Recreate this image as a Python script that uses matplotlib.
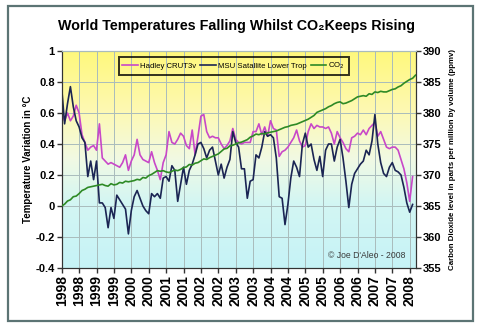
"""
World temperatures vs CO2, Jan 1998 - early 2008 (monthly).
Hadley CRUT3v and MSU lower troposphere on the left axis, CO2 ppmv on the right.
"""

import numpy as np
import matplotlib
matplotlib.use('Agg')
import matplotlib.pyplot as plt
from matplotlib.colors import LinearSegmentedColormap
from matplotlib.patches import Rectangle

# monthly anomalies (deg C), Jan 1998 onwards
HADLEY = [0.60, 0.55, 0.60, 0.55, 0.58, 0.65, 0.60, 0.46, 0.41, 0.36, 0.38, 0.39,
          0.36, 0.53, 0.31, 0.29, 0.27, 0.28, 0.27, 0.26, 0.25, 0.28, 0.33, 0.23,
          0.29, 0.33, 0.43, 0.33, 0.30, 0.29, 0.28, 0.35, 0.28, 0.23, 0.17, 0.28,
          0.33, 0.48, 0.41, 0.40, 0.43, 0.47, 0.45, 0.39, 0.37, 0.49, 0.33, 0.45,
          0.58, 0.59, 0.48, 0.44, 0.45, 0.44, 0.44, 0.40, 0.37, 0.39, 0.42, 0.50,
          0.43, 0.41, 0.40, 0.41, 0.41, 0.41, 0.48, 0.48, 0.53, 0.46, 0.51, 0.45,
          0.55, 0.50, 0.49, 0.32, 0.35, 0.36, 0.38, 0.41, 0.44, 0.49, 0.42, 0.38,
          0.39, 0.48, 0.53, 0.50, 0.52, 0.51, 0.51, 0.50, 0.51, 0.47, 0.40, 0.48,
          0.44, 0.41, 0.37, 0.35, 0.44, 0.45, 0.47, 0.46, 0.49, 0.46, 0.50, 0.52,
          0.54, 0.45, 0.48, 0.43, 0.38, 0.37, 0.38, 0.38, 0.36, 0.30, 0.24, 0.15,
          0.03, 0.19]

MSU = [0.76, 0.53, 0.66, 0.77, 0.64, 0.55, 0.51, 0.44, 0.41, 0.19, 0.29, 0.17,
       0.29, 0.02, 0.02, -0.01, -0.14, -0.01, -0.08, 0.07, 0.04, 0.01, -0.02, -0.18,
       -0.03, 0.06, 0.10, 0.05, 0.00, -0.03, -0.05, 0.08, 0.06, 0.08, 0.05, 0.18,
       0.19, 0.16, 0.26, 0.23, 0.03, 0.14, 0.25, 0.14, 0.23, 0.27, 0.33, 0.40,
       0.41, 0.37, 0.31, 0.36, 0.38, 0.29, 0.20, 0.27, 0.18, 0.25, 0.30, 0.48,
       0.41, 0.38, 0.24, 0.24, 0.05, 0.16, 0.17, 0.33, 0.31, 0.38, 0.48, 0.45,
       0.46, 0.44, 0.31, 0.06, 0.05, -0.12, 0.01, 0.18, 0.29, 0.25, 0.19, 0.40,
       0.47, 0.38, 0.40, 0.30, 0.23, 0.32, 0.19, 0.36, 0.40, 0.40, 0.29, 0.38,
       0.43, 0.31, 0.16, -0.01, 0.14, 0.21, 0.24, 0.27, 0.29, 0.36, 0.33, 0.42,
       0.59, 0.40, 0.28, 0.21, 0.19, 0.25, 0.28, 0.23, 0.22, 0.20, 0.12, 0.02,
       -0.04, 0.01]

CO2 = [365.0, 365.3, 365.8, 366.0, 366.5, 366.6, 367.0, 367.5, 367.7, 368.0, 368.1, 368.2,
       368.3, 368.4, 368.5, 368.3, 368.2, 368.6, 368.4, 368.5, 368.8, 368.7, 369.0, 368.9,
       369.0, 369.1, 369.3, 369.2, 369.6, 369.5, 369.9, 370.1, 370.4, 370.7, 370.6, 370.7,
       370.5, 370.4, 370.6, 370.8, 370.7, 370.9, 371.2, 371.3, 371.7, 371.6, 371.9, 372.0,
       372.3, 372.6, 372.5, 372.8, 373.0, 373.2, 373.4, 373.8, 374.2, 374.3, 374.7, 374.8,
       375.0, 375.2, 375.3, 375.5, 375.7, 376.1, 376.3, 376.6, 376.5, 376.7, 376.6, 376.8,
       376.9, 377.0, 377.1, 377.3, 377.5, 377.7, 377.8, 378.0, 378.1, 378.2, 378.4, 378.6,
       378.8, 379.0, 379.3, 379.6, 380.1, 380.3, 380.5, 380.7, 381.0, 381.2, 381.5, 381.7,
       381.8, 381.5, 381.6, 381.8, 382.0, 382.3, 382.6, 382.7, 382.8, 382.7, 383.1, 383.0,
       383.4, 383.3, 383.5, 383.4, 383.4, 383.6, 383.8, 383.9, 384.2, 384.4, 384.8, 385.1,
       385.4, 385.6, 386.1]

TICK_LABELS = ['1998', '1998', '1999', '1999', '2000', '2000', '2001', '2001',
               '2002', '2002', '2003', '2003', '2004', '2004', '2005', '2005',
               '2006', '2006', '2007', '2007', '2008']

MAGENTA = '#c848c8'
NAVY = '#1b2553'
GREEN = '#2e8a25'

plt.rcParams['font.family'] = ['Liberation Sans', 'DejaVu Sans']

fig = plt.figure(figsize=(4.8, 3.29), dpi=100)
fig.patch.set_facecolor('white')
fig.patches.append(Rectangle((7.5 / 480, 1 - 320.5 / 329), 465 / 480, 314.5 / 329,
                             transform=fig.transFigure, fill=False,
                             edgecolor='#5c7474', lw=1.6))

ax = fig.add_axes([61.7 / 480, 1 - 268 / 329, (415.5 - 61.7) / 480, 217 / 329])
ax2 = ax.twinx()

x_h = np.arange(len(HADLEY))
x_m = np.arange(len(MSU))
x_c = np.arange(len(CO2))
x_max = len(CO2) - 1

# yellow -> pale -> cyan background
cmap = LinearSegmentedColormap.from_list('bg', [
    (0.0, '#c6f3f7'), (0.3, '#d3f6f3'), (0.5, '#f1fae4'),
    (0.72, '#fdf9b4'), (1.0, '#fff87c')])
grad = np.linspace(0, 1, 256).reshape(-1, 1)
ax.imshow(grad, extent=[0, x_max, -0.4, 1.0], origin='lower', aspect='auto',
          cmap=cmap, zorder=0)

ax.plot(x_h, HADLEY, color=MAGENTA, lw=1.2, zorder=3, label='Hadley CRUT3v')
ax.plot(x_m, MSU, color=NAVY, lw=1.2, zorder=4, label='MSU Satallite Lower Trop')
ax2.plot(x_c, CO2, color=GREEN, lw=1.2, zorder=3, label='CO$_2$')

ax.set_xlim(0, x_max)
ax.set_ylim(-0.4, 1.0)
ax2.set_ylim(355, 390)

ax.set_xticks(np.arange(0, 121, 6))
ax.set_xticklabels(TICK_LABELS, rotation=90, fontsize=10, fontweight='bold')
ax.set_yticks(np.arange(-0.4, 1.01, 0.2))
ax.set_yticklabels(['-0.4', '-0.2', '0', '0.2', '0.4', '0.6', '0.8', '1'],
                   fontsize=8, fontweight='bold')
ax2.set_yticks(np.arange(355, 391, 5))
ax2.set_yticklabels([str(v) for v in range(355, 391, 5)], fontsize=8,
                    fontweight='bold')

ax.grid(True, color='#a9bcbc', lw=0.7, zorder=1)
ax.set_axisbelow(True)
for a in (ax, ax2):
    a.tick_params(direction='out', length=3.5, width=1, color='#333333', pad=1.5)
    a.spines['top'].set_color('#a9bcbc')
    a.spines['left'].set_color('#333333')
    a.spines['right'].set_color('#333333')
    a.spines['bottom'].set_color('#333333')

ax.set_ylabel('Temperature Variation in °C', fontsize=7, fontweight='bold')
ax.yaxis.set_label_coords(-0.082, 0.5)
ax2.set_ylabel('Carbon Dioxide level in parts per million by volume (ppmv)',
               fontsize=5.7, fontweight='bold')
ax2.yaxis.set_label_coords(1.095, 0.5)

fig.text(0.492, 1 - 26 / 329,
         'World Temperatures Falling Whilst CO\u2082Keeps Rising',
         ha='center', va='center', fontsize=10.3, fontweight='bold')

ax.text(0.972, 0.058, "© Joe D'Aleo - 2008", transform=ax.transAxes,
        ha='right', va='center', fontsize=6.2, color='#3a3a3a')

handles = ax.get_lines() + ax2.get_lines()
leg = ax2.legend(handles, [h.get_label() for h in handles], ncol=3,
                 loc='center', bbox_to_anchor=(0.486, 0.93), fontsize=5.6,
                 frameon=True, fancybox=False, handlelength=2.0,
                 handletextpad=0.3, columnspacing=0.5, borderpad=0.45)
leg.get_frame().set_facecolor('none')
leg.get_frame().set_edgecolor('black')
leg.get_frame().set_linewidth(1.4)

fig.savefig('out.png', dpi=100)
plt.close(fig)
